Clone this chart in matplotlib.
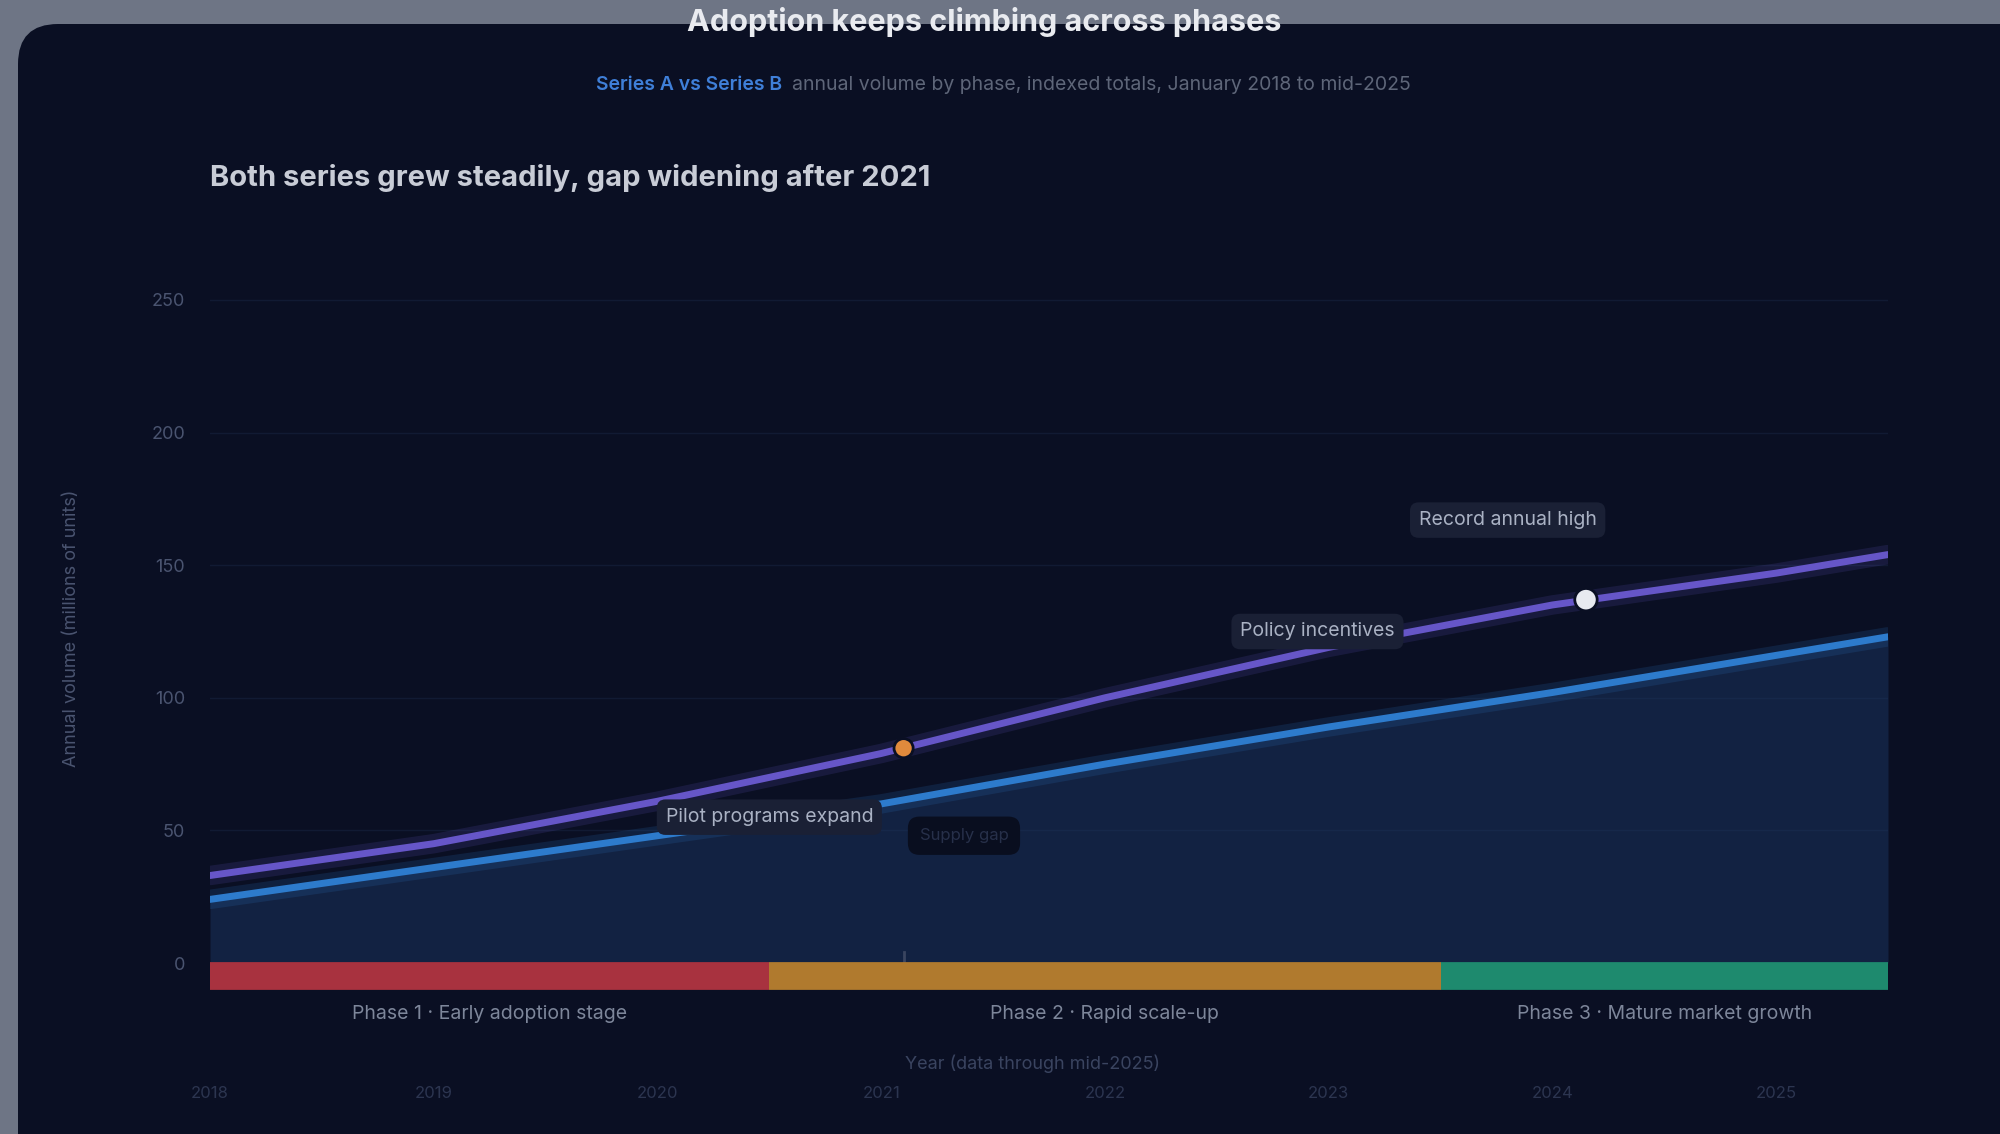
import matplotlib.pyplot as plt
from matplotlib.patches import FancyBboxPatch


plt.rcParams["font.family"] = ["Inter", "DejaVu Sans"]

# Datos
years = [2018, 2019, 2020, 2021, 2022, 2023, 2024, 2025, 2025.5]
series_a = [33, 45, 61, 79, 100, 119, 135, 147, 154]
series_b = [24, 36, 48, 60, 75, 89, 102, 116, 123]

year_ticks = [2018, 2019, 2020, 2021, 2022, 2023, 2024, 2025]
year_labels = ["2018", "2019", "2020", "2021", "2022", "2023", "2024", "2025"]
value_ticks = [0, 50, 100, 150, 200, 250]

phase_names = ["Phase 1 · Early adoption stage", "Phase 2 · Rapid scale-up", "Phase 3 · Mature market growth"]
phase_start = [2018, 2020.5, 2023.5]
phase_end = [2020.5, 2023.5, 2025.5]

event_x = [2021.1, 2024.15]
event_y = [81, 137]

notes_x = [2020.5, 2022.95, 2023.8]
notes_y = [55, 125, 167]
notes_text = ["Pilot programs expand", "Policy incentives", "Record annual high"]

BG = "#0a0f23"
PURPLE = "#6656c8"
BLUE = "#2d7bcc"
PHASE_COLORS = ["#a8323f", "#b07a2e", "#1e8a6e"]
EVENT_COLORS = ["#e08a3c", "#e8eaf0"]


fig = plt.figure(figsize=(20, 11.34), dpi=100, facecolor="#6e7585")

card = FancyBboxPatch(
    (18 / 2000, -0.05), 1.1, (1134 - 24) / 1134 + 0.05,
    boxstyle="round,pad=0,rounding_size=0.02",
    mutation_aspect=2000 / 1134,
    transform=fig.transFigure, facecolor=BG, edgecolor="none", zorder=-10,
)
fig.patches.append(card)

# Textos de cabecera
fig.text(0.492, 1 - 22 / 1134, "Adoption keeps climbing across phases",
         ha="center", va="center", fontsize=22, weight="bold", color="#e9ebf0")
fig.text(782 / 2000, 1 - 85 / 1134, "Series A vs Series B",
         ha="right", va="center", fontsize=14, weight="semibold", color="#3f7fd8")
fig.text(792 / 2000, 1 - 85 / 1134,
         "annual volume by phase, indexed totals, January 2018 to mid-2025",
         ha="left", va="center", fontsize=14, color="#5e6679")
fig.text(210 / 2000, 1 - 178 / 1134,
         "Both series grew steadily, gap widening after 2021",
         ha="left", va="center", fontsize=21, weight="bold", color="#c8ccd6")
fig.text(72 / 2000, 1 - 628 / 1134, "Annual volume (millions of units)",
         rotation=90, ha="center", va="center", fontsize=13, color="#4a5470")

ax = fig.add_axes([0.105, 0.118, 0.839, 0.6395])
ax.set_facecolor("none")
ax.set_xlim(2018, 2025.5)
ax.set_ylim(-14, 259.4)

for value in value_ticks:
    ax.axhline(value, color="#111a33", linewidth=1.0, zorder=0)

ax.fill_between(years, series_b, 0, color="#1d3b68", alpha=0.45, linewidth=0, zorder=1)

for values, color, z in [(series_b, BLUE, 3), (series_a, PURPLE, 4)]:
    ax.plot(years, values, color=color, linewidth=14, alpha=0.16,
            solid_capstyle="round", zorder=z)
    ax.plot(years, values, color=color, linewidth=5,
            solid_capstyle="round", zorder=z)

# Bandas de fase
for start, end, name, color in zip(phase_start, phase_end, phase_names, PHASE_COLORS):
    ax.plot([start, end], [-5, -5], color=color, linewidth=20,
            solid_capstyle="butt", zorder=2)
    ax.text((start + end) / 2, -0.0193, name, transform=ax.get_xaxis_transform(),
            ha="center", va="center", fontsize=14, color="#7d869a")

ax.plot([event_x[0], event_x[0]], [-5, 4], color="#3a4560", linewidth=2, zorder=1)

ax.scatter(event_x, event_y, s=[190, 260], c=EVENT_COLORS,
           edgecolors=BG, linewidths=2, zorder=6)

for x, y, text in zip(notes_x, notes_y, notes_text):
    ax.text(x, y, text, ha="center", va="center", fontsize=14, color="#aab2c4",
            zorder=7, bbox=dict(boxstyle="round,pad=0.45", facecolor="#1a2035",
                                edgecolor="none"))

ax.text(2021.37, 48, "Supply gap", ha="center", va="center", fontsize=12,
        color="#27304a", zorder=7,
        bbox=dict(boxstyle="round,pad=0.7", facecolor="#090e1f", edgecolor="none"))

ax.text(0.49, -0.088, "Year (data through mid-2025)", transform=ax.transAxes,
        ha="center", va="center", fontsize=13, color="#3a4460")

ax.set_xticks(year_ticks)
ax.set_xticklabels(year_labels)
ax.set_yticks(value_ticks)
ax.tick_params(axis="x", length=0, pad=62, labelsize=12, labelcolor="#2c3550")
ax.tick_params(axis="y", length=0, pad=18, labelsize=13, labelcolor="#4a5470")

for spine in ax.spines.values():
    spine.set_visible(False)

fig.savefig("out.png", dpi=100)
